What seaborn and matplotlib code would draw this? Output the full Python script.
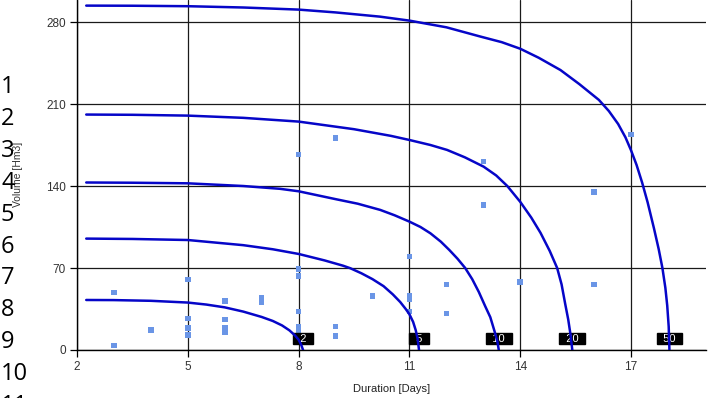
import matplotlib
matplotlib.use("Agg")
import matplotlib.pyplot as plt
import pandas as pd
import seaborn as sns

# Return periods (years) of the volume-duration envelopes
return_periods = [2, 5, 10, 20, 50]

# Envelope for each return period: duration [days] and volume [hm3]
env_2_days = [2.25, 3.0, 4.0, 5.0, 5.5, 6.0, 6.5, 7.0, 7.3, 7.55, 7.75, 7.9, 8.0, 8.07, 8.12]
env_2_vol = [42.7, 42.6, 42.0, 40.5, 38.8, 36.4, 32.8, 28.2, 24.8, 21.0, 16.8, 12.5, 8.8, 4.5, 0.0]

env_5_days = [2.25, 3.5, 5.0, 6.5, 7.3, 8.0, 8.7, 9.2, 9.4, 9.7, 10.0, 10.3, 10.55,
              10.75, 10.9, 11.0, 11.1, 11.17, 11.22, 11.26]
env_5_vol = [95.1, 94.8, 93.9, 89.5, 86.0, 82.0, 76.5, 72.0, 69.8, 65.5, 60.5, 54.5, 47.5,
             41.0, 35.0, 30.5, 24.0, 17.0, 10.0, 0.0]

env_10_days = [2.25, 3.5, 5.0, 6.5, 7.5, 8.0, 9.0, 9.6, 10.21, 10.6, 11.0, 11.3, 11.57,
               11.85, 12.08, 12.3, 12.51, 12.7, 12.88, 13.05, 13.19, 13.3, 13.38, 13.42]
env_10_vol = [143.0, 142.8, 142.3, 140.0, 137.6, 135.5, 128.8, 124.9, 119.6, 115.0, 109.6, 105.0, 99.6,
              92.5, 85.4, 78.0, 70.0, 60.5, 49.5, 37.5, 28.0, 16.5, 7.5, 0.0]

env_20_days = [2.25, 3.5, 5.0, 6.5, 8.0, 9.5, 10.5, 11.0, 11.57, 12.02, 12.5, 13.01, 13.35,
               13.65, 14.0, 14.3, 14.55, 14.8, 15.0, 15.12, 15.22, 15.3, 15.36, 15.41]
env_20_vol = [201.0, 200.8, 200.1, 198.2, 195.0, 188.5, 182.8, 179.3, 175.0, 170.8, 164.5, 156.5, 149.0,
              140.0, 126.5, 113.0, 100.0, 84.5, 70.0, 56.0, 39.0, 26.0, 13.5, 0.0]

env_50_days = [2.25, 3.5, 5.0, 6.5, 8.0, 9.0, 10.2, 11.0, 12.0, 12.92, 13.5, 14.0, 14.5,
               15.09, 15.6, 16.13, 16.4, 16.65, 16.85, 17.0, 17.15, 17.3, 17.45, 17.62,
               17.75, 17.85, 17.93, 17.98, 18.02, 18.04]
env_50_vol = [294.0, 293.9, 293.5, 292.4, 290.6, 288.2, 284.6, 281.2, 275.5, 267.6, 262.8, 257.2, 249.5,
              239.0, 227.0, 213.5, 204.0, 193.0, 181.5, 170.5, 158.0, 143.0, 126.0, 104.0,
              86.0, 70.0, 53.0, 38.0, 20.0, 0.0]

# Observed flood events
event_days = [3, 3, 4, 5, 5, 5, 5, 6, 6, 6, 6, 7, 7,
              8, 8, 8, 8, 8, 8, 9, 9, 9, 10, 11, 11, 11, 11,
              12, 12, 13, 13, 14, 16, 16, 16, 17]
event_volume = [49, 4, 17, 60, 27, 19, 13, 42, 26, 19, 15, 45, 41,
                167, 69, 63, 33, 20, 16, 181, 20, 12, 46, 80, 46, 43, 33,
                56, 31, 161, 124, 58, 135, 56, 56, 184]

x_ticks = [2, 5, 8, 11, 14, 17]
y_ticks = [0, 70, 140, 210, 280]

# Stray listing line numbers printed down the left margin
margin_numbers = [str(i) for i in range(1, 12)]

env_days = [env_2_days, env_5_days, env_10_days, env_20_days, env_50_days]
env_vol = [env_2_vol, env_5_vol, env_10_vol, env_20_vol, env_50_vol]

frames = []
for T, d, v in zip(return_periods, env_days, env_vol):
    frames.append(pd.DataFrame({"days": d, "volume": v, "T": T}))
curves = pd.concat(frames, ignore_index=True)

sns.set_style("white")
plt.rcParams["font.family"] = ["Liberation Sans", "DejaVu Sans"]

W, H = 708, 398
fig = plt.figure(figsize=(W / 100, H / 100), dpi=100)
ax = fig.add_axes([77 / W, (H - 350) / H, (706 - 77) / W, 350 / H])

line_blue = "#0606C8"
sns.scatterplot(x=event_days, y=event_volume, marker="s", s=16,
                color="#6A95E6", edgecolor="none", linewidth=0,
                ax=ax, zorder=3)
sns.lineplot(data=curves, x="days", y="volume", hue="T",
             palette=[line_blue] * len(return_periods), estimator=None,
             sort=False, legend=False, linewidth=1.8, ax=ax, zorder=5)

# Return-period tags at the foot of each envelope
for T, d in zip(return_periods, env_days):
    ax.text(d[-1], 9.8, f"  {T}  ", color="white", fontsize=8,
            ha="center", va="center", zorder=4,
            bbox=dict(boxstyle="square,pad=0.05", fc="black", ec="black"))

ax.set_xlim(2, 19.03)
ax.set_ylim(0, 298.8)
ax.set_xticks(x_ticks)
ax.set_yticks(y_ticks)
ax.grid(True, color="#1a1a1a", linewidth=0.9)
ax.set_axisbelow(True)
for side in ("top", "right"):
    ax.spines[side].set_visible(False)
for side in ("left", "bottom"):
    ax.spines[side].set_color("black")
    ax.spines[side].set_linewidth(1.0)
ax.tick_params(axis="both", which="major", direction="out", length=5,
               width=0.9, color="black", labelsize=8.5, labelcolor="#333333",
               left=True, bottom=True, pad=3)

ax.set_xlabel("Duration [Days]", fontsize=8, color="#222222", labelpad=8)
ax.set_ylabel("")
fig.text(18 / W, 1 - 174 / H, "Volume [Hm3]", rotation=90, fontsize=7.5,
         color="#333333", ha="center", va="center")

for i, num in enumerate(margin_numbers):
    fig.text(1 / W, 1 - (93 + i * 31.9) / H, num, fontsize=17,
             family=["Open Sans", "DejaVu Sans"], color="black",
             ha="left", va="baseline")

fig.savefig("out.png", dpi=100)
